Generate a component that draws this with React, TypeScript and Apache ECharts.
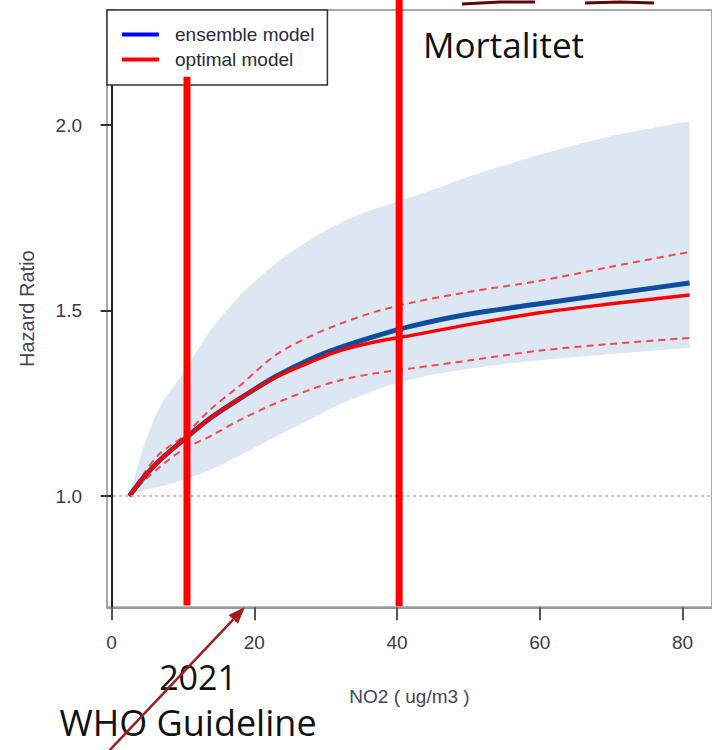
import React, { useEffect, useRef } from "react";
import * as echarts from "echarts";

// NO2 concentration (ug/m3) sample points
const no2 = [2.5, 4.5, 6.8, 10, 14, 18, 23, 28, 32, 37, 42, 50, 60, 70, 81];
// ensemble model hazard ratio
const ensemble = [1.0, 1.05, 1.097, 1.15, 1.212, 1.263, 1.322, 1.37, 1.4, 1.431, 1.458, 1.49, 1.518, 1.545, 1.574];
// ensemble model confidence band
const bandLower = [1.0, 1.015, 1.025, 1.043, 1.072, 1.11, 1.16, 1.208, 1.247, 1.286, 1.315, 1.343, 1.366, 1.383, 1.399];
const bandUpper = [1.0, 1.133, 1.241, 1.33, 1.45, 1.54, 1.627, 1.693, 1.736, 1.775, 1.805, 1.86, 1.92, 1.97, 2.01];
// optimal model hazard ratio and its interval
const optimal = [1.0, 1.05, 1.097, 1.15, 1.212, 1.263, 1.32, 1.362, 1.392, 1.416, 1.433, 1.462, 1.494, 1.518, 1.542];
const optimalUpper = [1.0, 1.06, 1.115, 1.16, 1.236, 1.298, 1.38, 1.432, 1.464, 1.497, 1.521, 1.55, 1.58, 1.618, 1.658];
const optimalLower = [1.0, 1.04, 1.079, 1.125, 1.163, 1.205, 1.25, 1.288, 1.312, 1.331, 1.344, 1.365, 1.392, 1.41, 1.426];

const xTicks = [0, 20, 40, 60, 80];
const yTicks = [1.0, 1.5, 2.0];
// annotation markers (NO2 values)
const whoGuideline = 10.57;
const mortalityLevel = 40.3;

const pairs = (ys: number[]) => no2.map((x, i) => [x, ys[i]]);
// value-first pairs so that stacking happens on the hazard-ratio dimension
const stackPairs = (ys: number[]) => no2.map((x, i) => [ys[i], x]);

export default function App() {
  const ref = useRef<HTMLDivElement>(null);
  useEffect(() => {
    if (!ref.current) return;
    const chart = echarts.init(ref.current, null, { renderer: "svg" });
    const axisFont = "'Liberation Sans', Arial, sans-serif";
    const slideFont = "'Open Sans', 'Noto Sans', sans-serif";
    chart.setOption({
      animation: false,
      backgroundColor: "#ffffff",
      grid: {
        left: 107,
        top: 10,
        width: 609.6,
        height: 597.3,
        show: true,
        borderColor: "#a8a8a8",
        borderWidth: 2,
      },
      legend: {
        left: 107,
        top: 10,
        orient: "vertical",
        backgroundColor: "#ffffff",
        borderColor: "#333333",
        borderWidth: 1.5,
        padding: [15, 13, 16, 15],
        itemGap: 6,
        itemWidth: 37,
        itemHeight: 4,
        icon: "rect",
        z: 20,
        textStyle: {
          fontFamily: axisFont,
          fontSize: 19,
          color: "#2a2a3a",
          lineHeight: 18,
          padding: [0, 0, 0, 11],
        },
        data: [
          { name: "ensemble model", itemStyle: { color: "#0000ff" } },
          { name: "optimal model", itemStyle: { color: "#ff0000" } },
        ],
      },
      xAxis: {
        type: "value",
        min: -0.64,
        max: 84.14,
        z: 10,
        name: "NO2 ( ug/m3 )",
        nameLocation: "middle",
        nameGap: 80,
        nameTextStyle: { fontFamily: axisFont, fontSize: 19, color: "#44445a" },
        splitLine: { show: false },
        axisLine: { show: true, lineStyle: { color: "#999999", width: 2 } },
        axisTick: {
          show: true,
          inside: false,
          length: 13,
          customValues: xTicks,
          lineStyle: { color: "#555555", width: 2 },
        },
        axisLabel: {
          customValues: xTicks,
          margin: 26,
          fontFamily: axisFont,
          fontSize: 19,
          color: "#3a3a4a",
        },
      },
      yAxis: {
        type: "value",
        min: 0.7,
        max: 2.31,
        z: 10,
        name: "Hazard Ratio",
        nameLocation: "middle",
        nameGap: 70,
        nameRotate: 90,
        nameTextStyle: { fontFamily: axisFont, fontSize: 20, color: "#44445a" },
        splitLine: { show: false },
        axisLine: { show: true, lineStyle: { color: "#222222", width: 2 } },
        axisTick: {
          show: true,
          length: 11,
          customValues: yTicks,
          lineStyle: { color: "#333333", width: 2 },
        },
        axisLabel: {
          customValues: yTicks,
          margin: 25,
          fontFamily: axisFont,
          fontSize: 19,
          color: "#3a3a4a",
          formatter: (v: number) => v.toFixed(1),
        },
      },
      series: [
        {
          name: "band lower",
          type: "line",
          stack: "band",
          encode: { x: 1, y: 0 },
          data: stackPairs(bandLower),
          smooth: 0.3,
          symbol: "none",
          silent: true,
          lineStyle: { opacity: 0 },
        },
        {
          name: "band",
          type: "line",
          stack: "band",
          encode: { x: 1, y: 0 },
          data: stackPairs(bandUpper.map((u, i) => u - bandLower[i])),
          smooth: 0.3,
          symbol: "none",
          silent: true,
          lineStyle: { opacity: 0 },
          areaStyle: { color: "#dce7f3", opacity: 1 },
        },
        {
          name: "optimal upper",
          type: "line",
          data: pairs(optimalUpper),
          smooth: 0.3,
          symbol: "none",
          lineStyle: { color: "#ff2a2a", width: 2, type: [7, 5], opacity: 0.85 },
          markLine: {
            silent: true,
            symbol: ["none", "none"],
            label: { show: false },
            lineStyle: { color: "#b4b4b4", type: [3, 3], width: 1.5, opacity: 1 },
            data: [{ yAxis: 1.0 }],
          },
        },
        {
          name: "optimal lower",
          type: "line",
          data: pairs(optimalLower),
          smooth: 0.3,
          symbol: "none",
          lineStyle: { color: "#ff2a2a", width: 2, type: [7, 5], opacity: 0.85 },
        },
        {
          name: "ensemble model",
          type: "line",
          data: pairs(ensemble),
          smooth: 0.3,
          symbol: "none",
          itemStyle: { color: "#0d4f9e" },
          lineStyle: { color: "#0d4f9e", width: 5 },
        },
        {
          name: "optimal model",
          type: "line",
          data: pairs(optimal),
          smooth: 0.3,
          symbol: "none",
          itemStyle: { color: "#ff0000" },
          lineStyle: { color: "#ff0000", width: 3.5 },
        },
      ],
    });

    const px = (x: number, y: number) => chart.convertToPixel({ gridIndex: 0 }, [x, y]) as number[];
    const w1top = px(whoGuideline, 2.13);
    const w1bot = px(whoGuideline, 0.705);
    const m1bot = px(mortalityLevel, 0.703);

    // arrow geometry
    const tip = [245, 607];
    const tail = [108, 752];
    const dx = tip[0] - tail[0];
    const dy = tip[1] - tail[1];
    const len = Math.sqrt(dx * dx + dy * dy);
    const ux = dx / len;
    const uy = dy / len;
    const headLen = 17;
    const headHalf = 6.5;
    const bx = tip[0] - ux * headLen;
    const by = tip[1] - uy * headLen;

    chart.setOption({
      graphic: [
        {
          type: "line",
          z: 100,
          shape: { x1: w1top[0], y1: w1top[1], x2: w1bot[0], y2: w1bot[1] },
          style: { stroke: "#ff0000", lineWidth: 7 },
        },
        {
          type: "line",
          z: 100,
          shape: { x1: m1bot[0], y1: 0, x2: m1bot[0], y2: m1bot[1] },
          style: { stroke: "#ff0000", lineWidth: 7 },
        },
        {
          type: "text",
          z: 100,
          x: 423,
          y: 44,
          style: {
            text: "Mortalitet",
            font: `35px ${slideFont}`,
            fill: "#111111",
            textVerticalAlign: "middle",
            textAlign: "left",
          },
        },
        {
          type: "text",
          z: 100,
          x: 198,
          y: 677,
          style: {
            text: "2021",
            font: `34px ${slideFont}`,
            fill: "#111111",
            textVerticalAlign: "middle",
            textAlign: "center",
          },
        },
        {
          type: "text",
          z: 100,
          x: 188,
          y: 722,
          style: {
            text: "WHO Guideline",
            font: `36px ${slideFont}`,
            fill: "#111111",
            textVerticalAlign: "middle",
            textAlign: "center",
          },
        },
        {
          type: "line",
          z: 101,
          shape: { x1: tail[0], y1: tail[1], x2: bx, y2: by },
          style: { stroke: "#a01e1e", lineWidth: 2.5 },
        },
        {
          type: "polygon",
          z: 101,
          shape: {
            points: [
              [tip[0], tip[1]],
              [bx - uy * headHalf, by + ux * headHalf],
              [bx + uy * headHalf, by - ux * headHalf],
            ],
          },
          style: { fill: "#a01e1e" },
        },
        {
          type: "polyline",
          z: 100,
          shape: { points: [[462, 4], [500, 2], [535, 2]] },
          style: { stroke: "#5a0a0a", lineWidth: 3 },
        },
        {
          type: "polyline",
          z: 100,
          shape: { points: [[585, 3], [620, 2], [654, 3]] },
          style: { stroke: "#5a0a0a", lineWidth: 3 },
        },
      ],
    });

    return () => chart.dispose();
  }, []);
  return (
    <div
      ref={ref}
      style={{ position: "fixed", left: 0, top: 0, width: 712, height: 750 }}
    />
  );
}
